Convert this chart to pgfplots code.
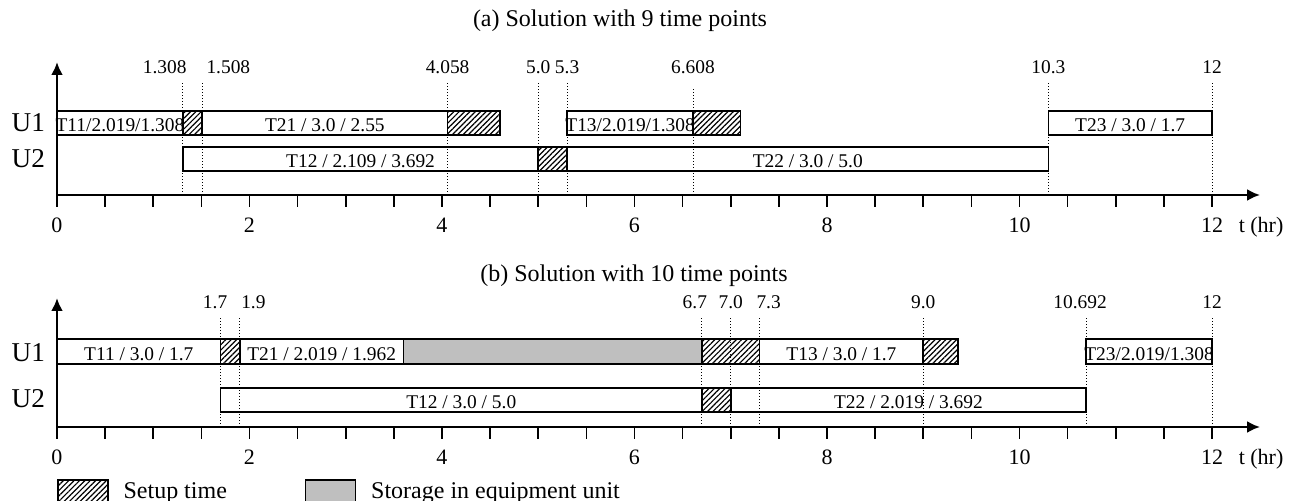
\documentclass[border=0pt]{standalone}
\usepackage{pgfplots}
\pgfplotsset{compat=1.18}
\usepackage{fontspec}
\setmainfont{Liberation Serif}
\usetikzlibrary{arrows.meta,patterns.meta}

\tikzset{
  task/.style={draw=black, line width=0.8pt, fill=white},
  setup/.style={draw=black, line width=0.8pt, pattern={Lines[angle=45,distance=1.9pt,line width=0.6pt]}},
  storage/.style={draw=black, line width=0.8pt, fill=black!25},
  tp/.style={densely dotted, line width=0.5pt, black},
  lbl/.style={font=\fontsize{9.7}{11}\selectfont, anchor=base, inner sep=0pt},
  tpl/.style={font=\fontsize{9.7}{11}\selectfont, inner sep=0pt},
}
\pgfplotsset{gantt/.style={
  scale only axis, width=601.56pt, xmin=0, xmax=12.5, ymin=0, clip=false,
  anchor=south west,
  axis lines=left,
  axis line style={line width=1.3pt, -{Latex[length=6.5pt,width=6pt]}},
  xtick={0,2,...,12}, minor x tick num=3,
  xtick align=outside, ytick align=inside,
  major tick length=6pt, minor tick length=6pt,
  tick style={line width=0.8pt, black},
  y tick style={draw=none},
  /pgf/number format/assume math mode=true,
  xticklabel style={font=\fontsize{11}{13}\selectfont, yshift=-2pt},
  yticklabel style={font=\fontsize{13.6}{15}\selectfont, xshift=-2.5pt},
}}

\begin{document}
\begin{tikzpicture}

\node[font=\fontsize{12}{14}\selectfont, anchor=base] at (310pt,-13.5pt) {(a) Solution with 9 time points};

\begin{axis}[gantt, at={(28.5pt,-97.5pt)}, height=66.5pt, ymax=133,
  ytick={36,72}, yticklabels={U2,U1}]
% U1
\addplot[task]  coordinates {(0,60) (1.308,60) (1.308,84) (0,84)} -- cycle;
\addplot[setup] coordinates {(1.308,60) (1.508,60) (1.508,84) (1.308,84)} -- cycle;
\addplot[task]  coordinates {(1.508,60) (4.058,60) (4.058,84) (1.508,84)} -- cycle;
\addplot[setup] coordinates {(4.058,60) (4.6,60) (4.6,84) (4.058,84)} -- cycle;
\addplot[task]  coordinates {(5.3,60) (6.608,60) (6.608,84) (5.3,84)} -- cycle;
\addplot[setup] coordinates {(6.608,60) (7.1,60) (7.1,84) (6.608,84)} -- cycle;
\addplot[task]  coordinates {(10.3,60) (12,60) (12,84) (10.3,84)} -- cycle;
% U2
\addplot[task]  coordinates {(1.308,24) (5.0,24) (5.0,48) (1.308,48)} -- cycle;
\addplot[setup] coordinates {(5.0,24) (5.3,24) (5.3,48) (5.0,48)} -- cycle;
\addplot[task]  coordinates {(5.3,24) (10.3,24) (10.3,48) (5.3,48)} -- cycle;
% time points
\addplot[tp] coordinates {(1.308,0) (1.308,113)};
\addplot[tp] coordinates {(1.508,0) (1.508,113)};
\addplot[tp] coordinates {(4.058,0) (4.058,113)};
\addplot[tp] coordinates {(5.0,0) (5.0,113)};
\addplot[tp] coordinates {(5.3,0) (5.3,113)};
\addplot[tp] coordinates {(6.608,0) (6.608,106)};
\addplot[tp] coordinates {(10.3,0) (10.3,113)};
\addplot[tp] coordinates {(12,0) (12,113)};
% time point labels
\node[tpl, anchor=east, xshift=2pt] at (axis cs:1.308,128) {1.308};
\node[tpl, anchor=west, xshift=2pt] at (axis cs:1.508,128) {1.508};
\node[tpl] at (axis cs:4.058,128) {4.058};
\node[tpl] at (axis cs:5.0,128) {5.0};
\node[tpl] at (axis cs:5.3,128) {5.3};
\node[tpl] at (axis cs:6.608,128) {6.608};
\node[tpl] at (axis cs:10.3,128) {10.3};
\node[tpl] at (axis cs:12,128) {12};
% task labels
\node[lbl] at (axis cs:0.654,63.5) {T11/2.019/1.308};
\node[lbl] at (axis cs:2.783,63.5) {T21 / 3.0 / 2.55};
\node[lbl] at (axis cs:5.954,63.5) {T13/2.019/1.308};
\node[lbl] at (axis cs:11.15,63.5) {T23 / 3.0 / 1.7};
\node[lbl] at (axis cs:3.154,27.5) {T12 / 2.109 / 3.692};
\node[lbl] at (axis cs:7.8,27.5) {T22 / 3.0 / 5.0};
\node[font=\fontsize{11}{13}\selectfont, anchor=base] at (axis cs:12.51,-38) {t (hr)};
\end{axis}

\node[font=\fontsize{12}{14}\selectfont, anchor=base] at (317pt,-141pt) {(b) Solution with 10 time points};

\begin{axis}[gantt, at={(28.5pt,-213.5pt)}, height=64.5pt, ymax=129,
  ytick={28,74}, yticklabels={U2,U1},
  legend columns=2,
  legend style={at={(0,-0.403)}, anchor=north west, draw=none, fill=none,
    inner sep=0pt, outer sep=0pt, font=\fontsize{12}{14}\selectfont,
    cells={anchor=base west}, nodes={inner sep=0pt},
    /tikz/every odd column/.append style={column sep=7.5pt}, row sep=0pt},
  legend image code/.code={\draw[#1] (0pt,-3pt) rectangle (25pt,9.5pt);}]
\addlegendimage{setup}
\addlegendentry{\makebox[90.5pt][l]{Setup time}}
\addlegendimage{storage}
\addlegendentry{Storage in equipment unit}
% U1
\addplot[task]    coordinates {(0,63) (1.7,63) (1.7,88) (0,88)} -- cycle;
\addplot[setup]   coordinates {(1.7,63) (1.9,63) (1.9,88) (1.7,88)} -- cycle;
\addplot[task]    coordinates {(1.9,63) (3.6,63) (3.6,88) (1.9,88)} -- cycle;
\addplot[storage] coordinates {(3.6,63) (6.7,63) (6.7,88) (3.6,88)} -- cycle;
\addplot[setup]   coordinates {(6.7,63) (7.3,63) (7.3,88) (6.7,88)} -- cycle;
\addplot[task]    coordinates {(7.3,63) (9.0,63) (9.0,88) (7.3,88)} -- cycle;
\addplot[setup]   coordinates {(9.0,63) (9.36,63) (9.36,88) (9.0,88)} -- cycle;
\addplot[task]    coordinates {(10.692,63) (12,63) (12,88) (10.692,88)} -- cycle;
% U2
\addplot[task]    coordinates {(1.7,15) (6.7,15) (6.7,39) (1.7,39)} -- cycle;
\addplot[setup]   coordinates {(6.7,15) (7.0,15) (7.0,39) (6.7,39)} -- cycle;
\addplot[task]    coordinates {(7.0,15) (10.692,15) (10.692,39) (7.0,39)} -- cycle;
% time points
\addplot[tp] coordinates {(1.7,0) (1.7,110)};
\addplot[tp] coordinates {(1.9,0) (1.9,110)};
\addplot[tp] coordinates {(6.7,0) (6.7,110)};
\addplot[tp] coordinates {(7.0,0) (7.0,110)};
\addplot[tp] coordinates {(7.3,0) (7.3,110)};
\addplot[tp] coordinates {(9.0,0) (9.0,110)};
\addplot[tp] coordinates {(10.692,0) (10.692,110)};
\addplot[tp] coordinates {(12,0) (12,110)};
% time point labels
\node[tpl, anchor=east, xshift=3.5pt] at (axis cs:1.7,125) {1.7};
\node[tpl, anchor=west, xshift=0.5pt] at (axis cs:1.9,125) {1.9};
\node[tpl, xshift=-3.5pt] at (axis cs:6.7,125) {6.7};
\node[tpl] at (axis cs:7.0,125) {7.0};
\node[tpl, xshift=4.5pt] at (axis cs:7.3,125) {7.3};
\node[tpl] at (axis cs:9.0,125) {9.0};
\node[tpl, xshift=-3pt] at (axis cs:10.692,125) {10.692};
\node[tpl] at (axis cs:12,125) {12};
% task labels
\node[lbl] at (axis cs:0.85,66.5) {T11 / 3.0 / 1.7};
\node[lbl] at (axis cs:2.75,66.5) {T21 / 2.019 / 1.962};
\node[lbl] at (axis cs:8.15,66.5) {T13 / 3.0 / 1.7};
\node[lbl] at (axis cs:11.346,66.5) {T23/2.019/1.308};
\node[lbl] at (axis cs:4.2,18.5) {T12 / 3.0 / 5.0};
\node[lbl] at (axis cs:8.846,18.5) {T22 / 2.019 / 3.692};
\node[font=\fontsize{11}{13}\selectfont, anchor=base] at (axis cs:12.51,-38) {t (hr)};
\end{axis}

\pgfresetboundingbox
\path[use as bounding box] (0pt,0pt) rectangle (649pt,-250.5pt);
\end{tikzpicture}
\end{document}
